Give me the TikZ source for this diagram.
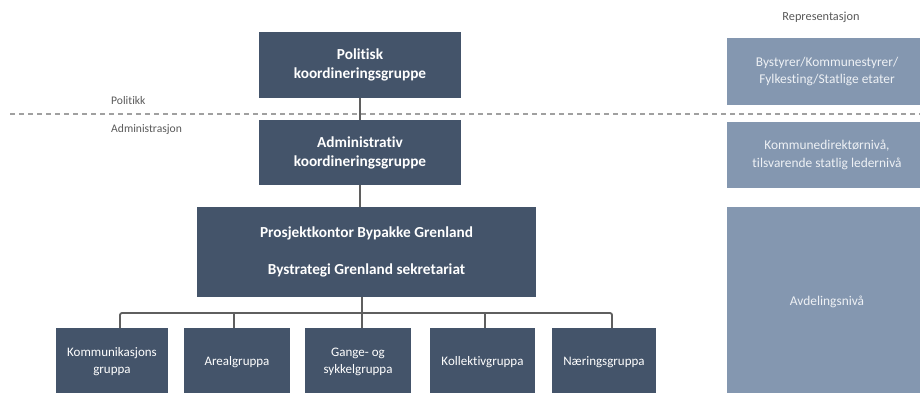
\documentclass[tikz,border=0pt]{standalone}
\usepackage{fontspec}
\setmainfont{Carlito}[Ligatures=NoCommon]
\definecolor{darkbox}{HTML}{44546A}
\definecolor{lightbox}{HTML}{8497B0}
\definecolor{linegrey}{HTML}{5F5F5F}
\definecolor{labelgrey}{HTML}{595959}
\definecolor{dashgrey}{HTML}{A0A0A0}
\definecolor{lighttext}{HTML}{EEF1F5}
\begin{document}
\begin{tikzpicture}[x=1pt,y=-1pt,
  darkrect/.style={fill=darkbox,draw=none,text=white,align=center,font=\fontsize{15.3}{19}\selectfont\bfseries},
  smallrect/.style={fill=darkbox,draw=none,text=white,align=center,font=\fontsize{13}{17}\selectfont},
  reprect/.style={fill=lightbox,draw=none,text=lighttext,align=center,font=\fontsize{13.4}{17.5}\selectfont},
  lab/.style={text=labelgrey,font=\fontsize{11.6}{14}\selectfont,anchor=west,inner sep=0pt},
  conn/.style={draw=linegrey,line width=1.8pt,rounded corners=2pt}]
\useasboundingbox (0,0) rectangle (920,392);
\begin{scope}
\clip (0,0) rectangle (920,392);
% dashed divider
\coordinate (dl) at (10,114);
\coordinate (dr) at (920,114);
\draw[dashgrey,line width=1.6pt,dash pattern=on 5pt off 4pt] (dl) -- (dr);
% main column
\path[darkrect] (259,32) rectangle (461,98);
\node[darkrect,fill=none] (pol) at (360,65) {Politisk\\koordineringsgruppe};
\path[darkrect] (259,120) rectangle (461,185);
\node[darkrect,fill=none] (adm) at (360,152.5) {Administrativ\\koordineringsgruppe};
\path[darkrect] (197,207) rectangle (536,297);
\node[darkrect,fill=none] (pk) at (366.5,252) {Prosjektkontor Bypakke Grenland\\[18pt]Bystrategi Grenland sekretariat};
% bottom groups
\path[smallrect] (56,328) rectangle (168,397);
\node[smallrect,fill=none] (g1) at (112,362) {Kommunikasjons\\gruppa};
\path[smallrect] (184,328) rectangle (290,397);
\node[smallrect,fill=none] (g2) at (237,362) {Arealgruppa};
\path[smallrect] (305,328) rectangle (411,397);
\node[smallrect,fill=none] (g3) at (358,362) {Gange- og\\sykkelgruppa};
\path[smallrect] (430,328) rectangle (535,397);
\node[smallrect,fill=none] (g4) at (482.5,362) {Kollektivgruppa};
\path[smallrect] (552,328) rectangle (656,397);
\node[smallrect,fill=none] (g5) at (604,362) {Næringsgruppa};
% connectors
\coordinate (t1) at (360,98);
\coordinate (b1) at (360,120);
\coordinate (t2) at (360,185);
\coordinate (b2) at (360,207);
\coordinate (t3) at (362,297);
\coordinate (bus) at (362,313);
\draw[conn] (t1) -- (b1);
\draw[conn] (t2) -- (b2);
\draw[conn] (t3) -- (bus);
\coordinate (d1) at (120,328);
\coordinate (d2) at (234,328);
\coordinate (d3) at (362,328);
\coordinate (d4) at (485,328);
\coordinate (d5) at (612,328);
\draw[conn] (d1) -- (d1 |- bus) -- (d5 |- bus) -- (d5);
\draw[conn] (d2 |- bus) -- (d2);
\draw[conn] (d3 |- bus) -- (d3);
\draw[conn] (d4 |- bus) -- (d4);
% representation column
\node[text=labelgrey,font=\fontsize{12.3}{14}\selectfont] (rep) at (821,17) {Representasjon};
\path[reprect] (727,38) rectangle (928,105);
\node[reprect,fill=none] (r1) at (827,71.5) {Bystyrer/Kommunestyrer/\\Fylkesting/Statlige etater};
\path[reprect] (727,122) rectangle (928,188);
\node[reprect,fill=none] (r2) at (827,155) {Kommunedirektørnivå,\\tilsvarende statlig ledernivå};
\path[reprect] (727,207) rectangle (928,397);
\node[reprect,fill=none] (r3) at (827,302) {Avdelingsnivå};
% labels
\node[lab] (lp) at (111,101) {Politikk};
\node[lab] (la) at (111,129) {Administrasjon};
\end{scope}
\end{tikzpicture}
\end{document}
